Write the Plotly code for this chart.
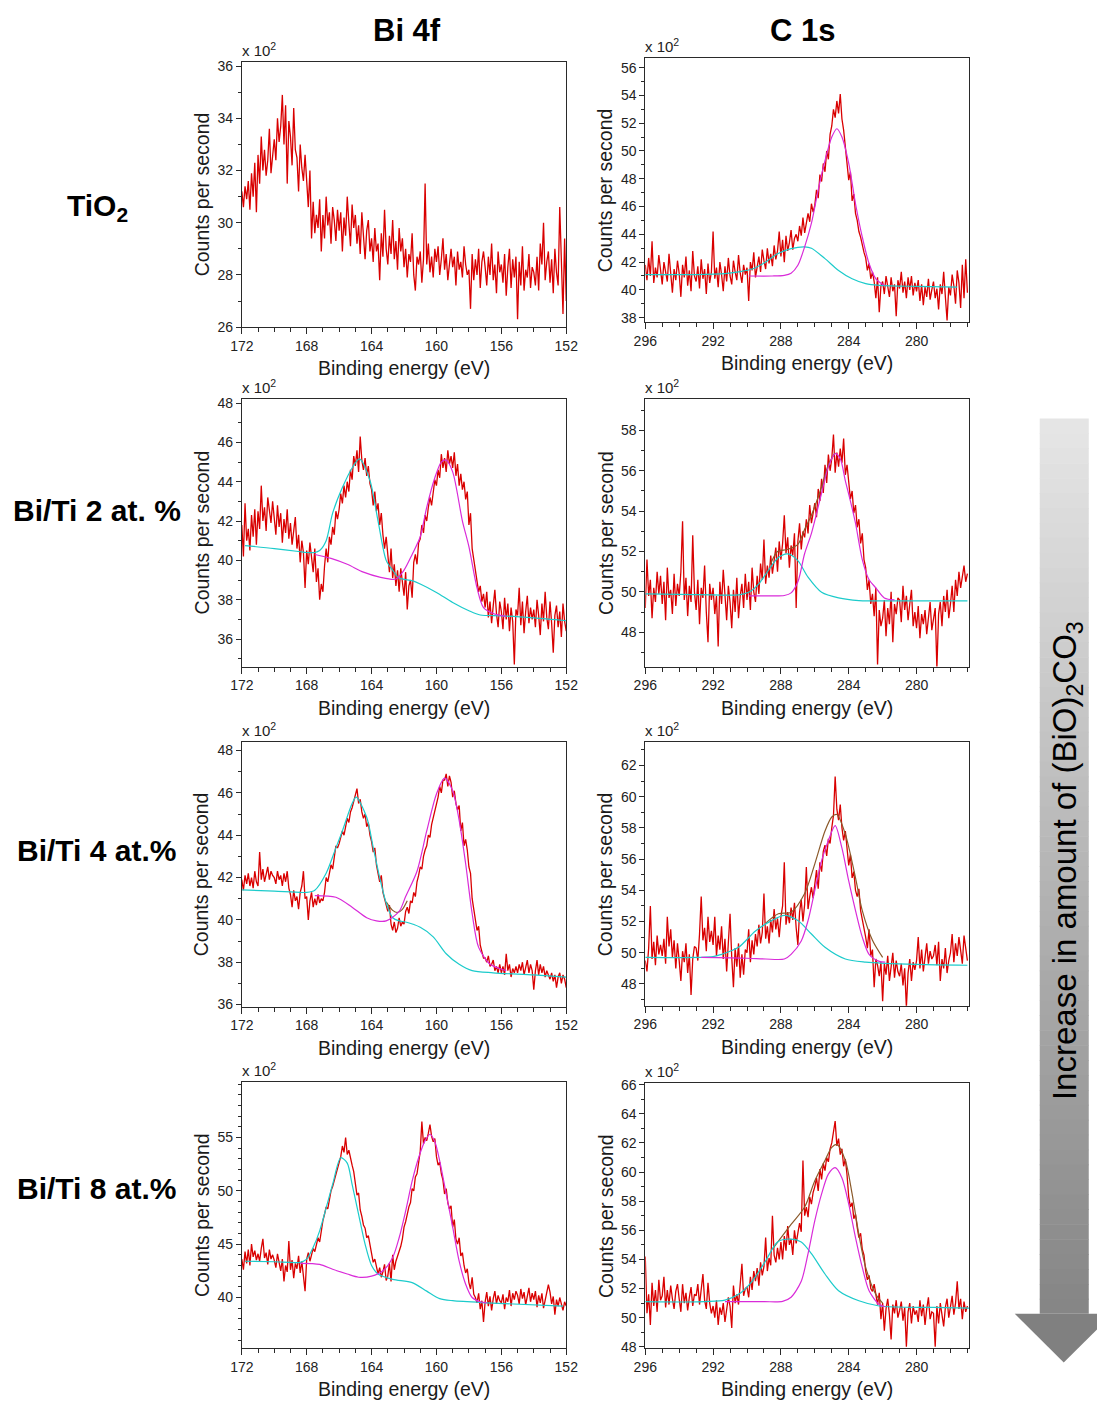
import numpy as np
import plotly.graph_objects as go

# ---------------- data (counts in units of 10^2 cps) ----------------
STEP = 0.1
BI_START = 172.0
C_START = 296.0

bi_tio2_counts = [
    31.2, 30.6, 31.4, 30.9, 31.6, 30.5, 31.9, 31.0, 32.3, 30.4,
    32.6, 31.5, 33.3, 32.0, 32.8, 31.8, 32.4, 33.6, 31.9, 32.7,
    33.2, 32.4, 34.0, 33.1, 33.7, 34.9, 33.0, 34.5, 31.5, 33.9,
    33.3, 32.2, 34.4, 32.8, 32.5, 31.2, 33.0, 32.1, 31.6, 32.6,
    31.4, 30.6, 32.0, 29.4, 30.8, 29.6, 30.3, 29.8, 30.9, 28.9,
    30.3, 29.4, 31.0, 29.9, 30.4, 29.2, 30.6, 30.1, 29.3, 30.5,
    29.7, 30.4, 28.9, 30.2, 29.5, 31.0, 30.0, 29.1, 30.7, 29.8,
    30.3, 29.2, 29.9, 28.8, 30.4, 29.5, 28.6, 29.7, 30.1, 28.9,
    29.4, 28.5, 29.8, 28.9, 29.2, 27.8, 29.6, 28.7, 30.5, 29.0,
    28.4, 29.5, 28.8, 30.1, 28.6, 29.3, 28.2, 29.8, 28.9, 29.4,
    28.3, 29.0, 27.9, 28.8, 28.5, 29.6, 28.0, 27.4, 28.7, 28.4,
    28.9, 27.7, 28.6, 31.5, 28.4, 29.2, 28.1, 28.7, 27.9, 29.0,
    28.5, 29.1, 28.0, 28.6, 29.4, 28.2, 28.8, 27.8, 28.5, 29.0,
    28.3, 28.7, 27.6, 28.9, 28.2, 28.5, 27.9, 29.1, 28.4, 28.0,
    28.2, 26.7, 28.8, 27.8, 28.6, 28.0, 29.0, 27.5, 28.5, 28.9,
    28.3, 27.6, 28.7, 28.0, 29.2, 27.8, 28.4, 27.3, 28.9, 28.1,
    28.4, 27.7, 28.8, 27.2, 28.3, 29.0, 27.5, 28.6, 27.9, 28.7,
    26.3, 28.5, 27.6, 29.1, 27.4, 28.2, 27.9, 28.8, 27.5, 28.3,
    28.1, 27.6, 28.7, 27.4, 29.2, 28.4, 30.0, 27.8, 28.5, 28.9,
    27.7, 28.6, 27.3, 29.0, 28.1, 27.6, 30.6, 28.2, 26.5, 29.4,
    27.0,
]

c_tio2_counts = [
    41.8, 40.7, 42.3, 41.0, 43.5, 40.5, 41.6, 40.9, 42.5, 41.2,
    40.4, 42.0, 41.3, 40.6, 42.6, 41.0, 39.8, 41.5, 40.7, 42.1,
    41.2, 39.5, 41.8, 40.9, 42.4, 40.3, 41.4, 39.9, 42.8, 41.0,
    40.6, 41.7, 40.1, 42.2, 40.8, 41.5, 39.7, 41.9, 40.5, 41.3,
    44.2, 40.8, 41.6, 40.2, 42.0, 41.1, 39.9, 41.7, 40.6, 42.3,
    41.0, 40.4, 42.1, 41.3, 40.7, 42.5, 41.2, 40.5, 41.8, 41.1,
    41.6, 39.2, 42.0, 41.4, 42.7, 40.9, 41.8, 42.4, 41.3, 42.9,
    42.1, 41.5, 43.0, 41.9, 42.6, 41.7, 43.2, 42.2, 42.8, 44.2,
    42.4, 43.6, 42.0, 43.9, 42.8, 43.4, 44.3, 42.9, 43.7, 44.0,
    43.5, 44.6, 43.9, 45.2, 44.1, 44.8, 45.5, 44.9, 46.2, 45.6,
    46.1, 47.2, 46.6, 48.3, 47.8, 49.1, 48.5, 50.0, 49.4, 51.2,
    51.8, 53.0, 52.4, 53.6, 52.7, 54.1, 52.3, 51.5, 50.2, 49.4,
    47.9, 48.5, 46.4, 46.9, 45.5, 45.0, 44.2, 43.8, 43.1, 42.7,
    42.3, 41.4, 41.9, 40.8, 41.3, 40.6, 39.4, 40.9, 38.4, 40.3,
    40.6, 39.7, 41.0, 40.2, 39.5, 40.9, 39.9, 40.4, 38.1, 40.7,
    40.1, 41.3, 39.8, 40.6, 39.4, 40.9, 40.0, 41.0, 39.6, 40.5,
    39.9, 40.7, 39.2, 40.4, 38.9, 40.2, 39.5, 40.8, 39.3, 40.0,
    40.6, 39.4, 40.1, 38.6, 40.4, 39.7, 41.3, 39.5, 37.8, 40.2,
    39.6, 41.1, 40.3, 39.0, 41.4, 40.5, 38.7, 41.8, 39.4, 42.2,
    39.8,
]

bi_2_counts = [
    41.8, 40.2, 42.9, 41.0, 41.6, 40.5, 42.3, 41.2, 42.6, 40.8,
    42.5, 41.6, 43.8, 42.0, 42.7, 41.5, 43.2, 42.4, 41.9, 43.0,
    42.3, 41.3, 42.8, 41.7, 42.4, 40.9, 42.1, 41.4, 42.6, 41.1,
    41.9, 40.8, 41.5, 42.2, 40.6, 41.3, 39.9, 41.0, 40.4, 38.6,
    40.5, 39.8, 40.9, 40.1, 39.4, 40.6, 38.9, 39.6, 38.0, 38.8,
    38.4, 39.7, 40.6, 39.9, 41.2, 40.8, 41.7, 41.3, 42.5, 42.1,
    42.6, 43.4, 42.9, 43.8, 43.2, 44.0, 43.5, 44.6, 44.1, 45.3,
    44.8, 45.6, 44.5, 46.3, 45.1, 44.6, 45.2, 44.3, 44.8, 43.9,
    43.6, 42.8, 43.5, 42.5, 42.9, 41.8, 42.4, 41.3, 40.6, 41.2,
    40.2, 39.4, 40.6, 39.1, 39.8, 38.7, 39.5, 38.4, 39.6, 38.9,
    38.2, 39.4, 37.5, 38.7, 39.0, 38.1, 39.9, 40.3, 39.8, 40.9,
    41.1, 41.8, 41.4, 42.3, 42.0, 42.7, 43.2, 42.8, 43.6, 44.1,
    43.8, 44.6, 44.2, 45.4, 44.7, 45.2, 44.5, 45.6, 44.9, 45.3,
    44.7, 45.5, 44.3, 44.9, 43.8, 44.4, 43.6, 44.0, 43.1, 43.5,
    41.8, 42.4, 40.6, 40.1, 39.6, 39.0, 38.4, 38.7, 37.9, 38.3,
    37.6, 38.4, 37.1, 37.9, 36.8, 37.7, 38.5, 37.3, 36.6, 37.9,
    37.4, 36.5, 38.1, 37.0, 37.8, 36.4, 37.6, 36.9, 34.7, 37.5,
    37.2, 38.6, 36.7, 37.9, 36.3, 37.4, 38.2, 36.8, 37.6, 37.0,
    37.5, 36.6, 38.0, 37.2, 36.2, 37.8, 36.9, 38.4, 37.1, 36.5,
    37.9, 36.8, 35.3, 37.2, 37.7, 36.6, 37.4, 36.1, 37.8, 36.9,
    36.4,
]

c_2_counts = [
    49.2, 51.6, 49.8, 50.6, 48.7, 50.2, 49.5, 51.0, 49.9, 50.8,
    49.4, 50.5, 48.6, 51.2, 49.7, 50.1, 48.9, 50.9, 49.3, 50.4,
    49.8, 51.0, 53.5, 49.6, 50.7, 48.8, 50.3, 49.5, 52.8, 50.0,
    49.1, 50.6, 48.4, 50.2, 49.7, 51.3, 49.0, 47.5, 50.4, 49.6,
    50.2, 48.9, 49.8, 47.3, 50.5, 49.4, 51.1, 49.9, 48.6, 50.3,
    49.5, 48.2, 50.1, 49.0, 50.7, 48.7, 49.8, 50.4, 49.2, 50.9,
    49.6, 50.5, 49.1, 51.2, 50.0, 49.5, 50.8, 49.9, 51.4, 50.6,
    52.6, 50.4, 51.3, 50.7, 51.8, 50.9, 51.5, 52.2, 51.0, 52.5,
    51.6, 52.4, 53.8, 51.9, 52.7, 51.2, 52.3, 51.8, 52.9, 49.2,
    52.5, 53.4, 52.1, 53.0, 52.7, 53.6, 52.9, 54.3, 53.4, 54.0,
    54.4, 53.7, 55.1, 54.5, 55.6, 54.9, 56.3, 55.4, 56.8, 56.0,
    56.6, 57.8, 55.9, 56.9, 56.2, 57.1, 56.4, 57.6, 55.8, 56.3,
    55.4, 54.6, 55.0, 53.9, 54.3, 53.2, 53.6, 52.4, 52.9, 51.6,
    51.2, 50.1, 50.6, 49.4, 49.9, 48.8, 50.2, 46.4, 49.1, 48.3,
    48.7, 49.6, 47.8, 49.2, 48.4, 50.0, 47.5, 49.4, 48.9, 49.7,
    49.6, 48.5, 50.3, 49.1, 49.8, 48.6, 49.4, 50.1, 48.3, 49.0,
    48.2, 49.3, 47.7, 48.9, 48.4, 49.1, 47.9, 48.7, 49.5, 48.1,
    48.6, 49.2, 46.2, 48.9, 49.5, 48.3, 49.8, 49.0, 50.1, 48.7,
    49.4, 50.3, 49.0, 50.6, 49.8, 51.0, 50.2, 50.7, 51.3, 50.5,
    50.9,
]

bi_4_counts = [
    41.9, 41.4, 42.1, 41.7, 42.2, 41.6, 42.0, 41.5, 42.3, 41.8,
    41.6, 43.2, 41.9, 42.4, 41.8, 42.2, 42.5, 41.9, 42.3, 42.1,
    42.0, 41.7, 42.3, 41.9, 42.1, 41.6, 42.2, 41.8, 42.3, 41.5,
    41.2, 40.6, 41.4, 40.9, 41.1, 40.5, 41.3, 41.6, 42.3, 41.0,
    41.1, 40.0, 40.9, 41.3, 40.6, 41.0, 40.7, 41.2, 40.8, 41.0,
    40.9, 41.3, 42.0, 41.8, 42.3, 42.6, 42.4, 43.0, 43.5, 43.4,
    43.6, 43.9, 44.2, 44.0, 44.5, 44.8, 44.6, 45.1, 45.3, 45.6,
    45.8, 46.2, 45.5, 45.7, 45.1, 44.8, 45.0, 44.4, 44.6, 44.0,
    43.7, 43.2, 43.4, 42.6, 42.2, 41.8, 42.1, 41.3, 41.0, 40.7,
    40.4, 40.7, 39.8, 39.5, 39.9, 39.4, 39.6, 40.1, 39.7, 39.9,
    39.8, 40.4, 40.6, 40.3, 40.9, 40.8, 41.3, 41.1, 41.8, 42.1,
    42.5, 42.4, 43.0, 43.3, 43.5, 44.0, 43.9, 44.5, 44.8, 45.2,
    45.5, 45.8, 46.3, 46.0, 46.6, 46.6, 46.9, 46.3, 46.8, 46.5,
    45.8, 46.1, 45.5, 45.2, 45.4, 44.2, 44.6, 43.5, 43.8, 43.3,
    42.5, 42.2, 41.0, 40.5, 40.2, 39.5, 39.7, 38.8, 38.5, 38.2,
    38.2, 38.0, 38.3, 37.8, 37.9, 38.1, 37.6, 37.8, 37.5, 37.9,
    37.5, 37.8, 37.4, 38.4, 37.6, 37.9, 37.3, 37.7, 37.5, 37.8,
    37.5, 37.9, 37.6, 38.0, 37.4, 37.8, 38.1, 37.5, 37.9, 37.6,
    36.7, 37.6, 38.1, 37.4, 37.9, 37.5, 37.8, 37.3, 37.6, 37.4,
    37.2, 37.5, 37.1, 37.4, 36.8, 37.3, 37.5, 37.0, 37.4, 37.2,
    36.8,
]

c_4_counts = [
    49.5, 48.8, 50.3, 53.0, 49.6, 50.7, 49.2, 51.1, 49.9, 50.5,
    49.8, 50.9, 49.3, 52.3, 50.4, 51.5, 49.7, 50.8, 49.0, 50.6,
    49.5, 48.2, 50.1, 49.4, 50.6, 48.7, 49.9, 47.3, 49.6, 50.4,
    50.3, 49.5, 51.2, 53.6, 50.8, 51.6, 50.1, 52.3, 50.7, 51.4,
    50.5, 52.3, 49.8, 51.1, 50.2, 51.7, 49.6, 50.9, 48.8, 50.4,
    52.5, 49.7, 47.8, 50.3, 49.1, 50.6, 48.4, 49.9, 48.6, 50.2,
    50.0, 51.5, 49.4, 50.8, 49.9, 51.2, 50.4, 51.8, 50.6, 51.3,
    53.8, 50.9, 51.7, 50.6, 52.1, 51.3, 52.8, 51.5, 52.2, 51.0,
    52.3, 53.0, 55.8, 51.8, 52.6, 51.9, 52.9, 52.1, 53.2, 51.6,
    50.5, 52.6, 53.4, 52.0, 53.1, 55.5, 52.8, 53.6, 54.2, 53.5,
    54.6, 55.3, 54.1, 55.8, 55.2, 56.5, 56.9, 56.2, 57.3, 57.0,
    58.0, 58.8, 61.3, 59.2, 58.5, 59.5, 58.0, 57.2, 57.8, 56.4,
    55.6, 56.3, 54.8, 55.2, 54.0, 53.6, 54.1, 52.7, 52.2, 51.6,
    51.0, 50.3, 51.5, 49.8, 50.2, 47.8, 49.6, 49.2, 48.5, 49.4,
    46.9, 49.3, 48.6, 49.8, 48.2, 49.1, 50.0, 48.4, 49.5, 48.8,
    48.5, 49.3, 47.9, 49.0, 46.5, 48.7, 49.6, 48.2, 49.4, 48.9,
    49.5, 51.0, 49.0, 50.2, 48.8, 49.7, 50.6, 49.3, 50.1, 49.6,
    49.8, 50.5, 49.2, 50.7, 48.2, 49.6, 49.0, 50.3, 48.7, 49.5,
    50.0, 51.2, 49.4, 50.6, 49.8, 51.0, 50.2, 49.3, 51.1, 50.4,
    49.5,
]

bi_8_counts = [
    43.6, 42.6, 44.3, 43.2, 44.5, 43.0, 45.0, 43.8, 44.4, 43.5,
    44.1, 43.4, 44.6, 45.5, 43.7, 44.2, 43.1, 44.5, 43.6, 44.0,
    43.5, 42.8, 44.1, 43.3, 42.5, 43.6, 41.5, 43.0, 42.4, 45.3,
    42.6, 43.5, 41.8, 43.2, 42.7, 43.9, 42.3, 43.4, 42.0, 40.6,
    43.6, 44.2, 43.4, 44.0, 44.6, 44.3, 44.9, 45.6, 45.2, 46.4,
    47.2, 47.8, 48.5, 48.3, 49.2, 50.0, 50.4, 51.0, 51.6, 52.1,
    52.6, 53.2, 54.2, 53.6, 55.0, 53.4, 53.8, 52.9, 52.4, 51.8,
    50.5, 49.6, 49.8, 48.2, 47.6, 46.8, 46.5, 45.6, 45.8, 44.9,
    44.0, 43.3, 43.6, 42.7, 42.2, 42.8, 41.9, 42.4, 43.1, 41.6,
    42.0, 43.2, 41.5, 44.0, 42.6, 43.4, 43.9, 44.2, 44.8, 45.5,
    46.6, 47.1, 47.9, 48.5, 48.9, 50.2, 50.0, 51.3, 51.6, 52.6,
    53.7, 56.5, 54.4, 55.0, 54.7, 55.4, 56.2, 55.1, 54.6, 54.9,
    53.2, 52.4, 52.7, 51.6, 51.0, 49.7, 50.2, 48.9, 48.3, 48.6,
    46.6, 47.3, 45.5, 45.0, 45.6, 43.9, 44.2, 43.0, 42.3, 42.7,
    41.4, 40.8, 41.9, 40.3, 40.0, 39.5, 40.4, 38.9, 39.7, 37.7,
    39.6, 40.5, 39.2, 40.1, 38.8, 39.9, 40.6, 39.4, 40.2, 39.7,
    39.5, 40.3, 38.9, 40.0, 39.6, 40.7, 39.2, 40.4, 39.8, 40.6,
    40.2, 39.4, 40.8, 39.9, 40.5, 39.3, 40.1, 40.9, 39.6, 40.4,
    39.8, 40.6, 39.1, 40.2, 39.5, 40.4, 39.0, 39.7, 40.3, 41.2,
    40.5, 39.4, 40.1, 38.4, 39.8, 39.2, 40.0, 39.5, 38.8, 39.6,
    39.2,
]

c_8_counts = [
    54.2, 50.3, 51.6, 49.5, 52.4, 50.8, 51.9, 50.4, 52.6, 51.2,
    51.5, 52.8, 50.7, 51.9, 50.9, 52.2, 51.3, 50.6, 51.8, 52.3,
    51.3, 50.4, 52.3, 51.0, 51.7, 50.5, 51.4, 52.1, 50.8, 51.6,
    51.5, 52.3, 50.9, 51.8, 53.0, 51.2, 50.6, 52.4, 51.0, 50.3,
    50.8, 50.0, 51.2, 49.5, 50.7, 50.2, 51.0, 49.7, 50.6, 51.4,
    50.8, 49.3, 52.2, 51.0, 51.6, 50.9, 52.3, 53.7, 51.5, 52.0,
    52.1, 51.4, 52.8, 51.9, 53.2, 52.5, 53.4, 52.2, 53.8, 52.9,
    53.5, 55.5, 53.2, 54.1, 53.6, 57.0, 54.3, 53.8, 54.8, 54.0,
    55.2, 54.0, 55.6, 54.6, 56.3, 55.0, 55.4, 54.3, 56.0, 55.1,
    55.8, 56.5, 55.9, 60.8, 57.0, 57.6, 56.9, 58.3, 57.8, 58.6,
    59.0, 59.6, 58.7, 60.2, 59.5, 60.6, 60.1, 61.0, 60.7, 61.6,
    62.0, 62.7, 63.5, 61.8, 62.3, 61.2, 61.6, 60.4, 60.9, 59.8,
    58.3, 57.6, 57.9, 56.8, 57.1, 56.2, 55.5, 55.8, 54.7, 54.3,
    53.2, 52.6, 52.9, 52.0, 51.8, 52.3, 51.4, 50.9, 51.7, 49.9,
    51.0, 49.1, 50.6, 51.3, 50.2, 48.5, 50.9, 50.3, 51.2, 50.0,
    50.5, 51.1, 49.8, 50.7, 48.0, 50.4, 51.0, 49.6, 50.8, 50.2,
    50.5, 49.7, 51.2, 50.1, 50.9, 49.5, 50.6, 51.4, 49.9, 50.4,
    50.3, 48.0, 50.8, 49.6, 51.0, 50.2, 49.4, 50.7, 51.3, 50.0,
    50.8, 51.5, 50.2, 51.0, 52.5, 50.6, 51.3, 49.9, 51.1, 50.4,
    50.8,
]

# ---- fitted components (binding energy, counts x10^2) ----
c_tio2_cyan_be = [296, 293, 291.3, 290.5, 289.7, 288.9, 288.2, 287.4, 286.6, 286.2, 285.4, 284.6, 283.8, 283, 282.2, 280, 277.6]
c_tio2_cyan = [41.1, 41.1, 41.17, 41.3, 41.5, 42.0, 42.6, 42.97, 43.1, 43.0, 42.25, 41.4, 40.8, 40.45, 40.33, 40.25, 40.2]
c_tio2_mag_be = [289.9, 288.5, 287.8, 287.4, 287.0, 286.6, 286.2, 285.8, 285.4, 285.0, 284.7, 284.4, 284.0, 283.6, 283.2, 282.8, 282.4, 281.9]
c_tio2_mag = [41.0, 41.0, 41.05, 41.2, 41.77, 43.1, 44.8, 47.2, 49.3, 51.0, 51.6, 51.0, 49.1, 46.2, 43.8, 41.9, 40.8, 40.33]

bi_2_cyan_be = [171.8, 170, 168.5, 168, 167.5, 167.2, 166.8, 166.4, 165.8, 165.2, 164.75, 164.1, 163.6, 163.1, 162.7, 162.3, 161.5, 161.0, 160.0, 159.0, 158.0, 157.3, 156, 154, 152]
bi_2_cyan = [40.75, 40.6, 40.45, 40.4, 40.4, 40.5, 41.0, 42.4, 43.7, 44.7, 45.16, 44.06, 42.0, 40.0, 39.5, 39.1, 38.97, 38.8, 38.37, 37.86, 37.44, 37.22, 37.18, 37.07, 36.93]
bi_2_mag_be = [167.5, 166.5, 165.5, 164.5, 163.5, 162.5, 162.0, 161.5, 161.0, 160.6, 160.1, 159.7, 159.4, 159.0, 158.4, 158.0, 157.5, 157.1, 156.5, 155.7]
bi_2_mag = [40.3, 40.1, 39.8, 39.4, 39.15, 39.05, 39.5, 40.3, 41.2, 42.7, 44.2, 45.0, 45.1, 44.5, 42.0, 40.7, 38.6, 37.6, 37.3, 37.15]

c_2_cyan_be = [296, 292, 290.5, 289.9, 289.3, 288.75, 288.15, 287.6, 287.0, 286.4, 285.6, 284.6, 283.4, 281, 277]
c_2_cyan = [49.9, 49.85, 49.85, 49.98, 50.4, 51.06, 51.7, 51.88, 51.55, 50.73, 49.98, 49.7, 49.57, 49.55, 49.55]
c_2_mag_be = [289.9, 288.5, 287.8, 287.4, 287.0, 286.6, 286.2, 285.6, 285.2, 284.8, 284.5, 284.2, 283.9, 283.6, 283.2, 282.8, 282.4, 281.9, 281.3]
c_2_mag = [49.8, 49.8, 49.82, 49.95, 50.5, 51.9, 52.9, 54.9, 56.2, 56.85, 56.6, 55.5, 54.5, 53.4, 51.6, 50.6, 50.2, 49.7, 49.6]
c_2_env_be = [288.6, 288.2, 287.6, 287.0, 286.6, 286.2, 285.6, 285.2, 284.8]
c_2_env = [51.4, 52.0, 52.1, 52.35, 53.1, 53.8, 55.2, 56.3, 56.9]

bi_4_cyan_be = [172, 170, 168, 167.5, 166.8, 166.2, 165.8, 165.2, 164.95, 164.3, 163.9, 163.5, 163.1, 162.7, 162.3, 161.9, 161.0, 160.2, 159.4, 158.6, 157.8, 156.5, 154, 152]
bi_4_cyan = [41.42, 41.36, 41.3, 41.4, 42.2, 43.4, 44.2, 45.5, 45.8, 44.85, 43.43, 42.0, 40.8, 40.1, 39.95, 39.9, 39.65, 39.2, 38.4, 37.9, 37.6, 37.5, 37.4, 37.3]
bi_4_mag_be = [167.5, 166.2, 165.2, 164.3, 163.7, 163.1, 162.3, 161.9, 161.2, 160.6, 160.0, 159.5, 159.0, 158.6, 158.2, 157.8, 157.4, 156.7, 156.1, 155.7]
bi_4_mag = [41.15, 41.07, 40.6, 40.1, 39.95, 39.95, 40.4, 41.1, 42.3, 44.2, 45.95, 46.7, 46.1, 44.7, 42.65, 40.3, 38.7, 37.9, 37.7, 37.6]
bi_4_env_be = [163.1, 162.7, 162.4, 162.1, 161.8]
bi_4_env = [40.85, 40.45, 40.35, 40.5, 40.9]

c_4_cyan_be = [296, 292, 291.5, 290.5, 289.5, 288.55, 287.8, 287.0, 286.2, 285.4, 284.2, 283.0, 280, 277]
c_4_cyan = [49.71, 49.75, 49.9, 50.35, 51.4, 52.06, 52.4, 52.06, 51.2, 50.35, 49.6, 49.4, 49.25, 49.2]
c_4_mag_be = [292.7, 290, 288.9, 287.8, 287.4, 286.8, 286.4, 286.0, 285.6, 285.2, 284.8, 284.4, 284.0, 283.6, 283.2, 282.8, 282.2, 281.85]
c_4_mag = [49.7, 49.65, 49.6, 49.6, 49.9, 50.76, 52.06, 54.0, 55.9, 57.2, 58.15, 56.7, 54.6, 52.7, 51.0, 49.9, 49.45, 49.4]
c_4_env_be = [288.9, 288.15, 287.4, 286.6, 286.0, 285.4, 285.0, 284.7, 284.2, 283.6, 283.2, 282.6, 282.0]
c_4_env = [51.9, 52.5, 52.6, 53.8, 55.7, 57.8, 58.7, 58.86, 57.6, 54.8, 52.7, 50.8, 49.7]

bi_8_cyan_be = [171.8, 170, 168.4, 168.0, 167.6, 167.2, 166.8, 166.4, 165.9, 165.5, 165.2, 164.8, 164.4, 164.0, 163.6, 162.7, 161.5, 160.6, 159.8, 159.0, 156.9, 152.2]
bi_8_cyan = [43.4, 43.35, 43.3, 43.6, 44.7, 46.25, 48.4, 50.6, 53.1, 52.6, 50.6, 47.8, 45.0, 43.0, 42.2, 41.7, 41.4, 40.6, 39.9, 39.7, 39.5, 39.2]
bi_8_mag_be = [168.4, 167.2, 166.4, 165.5, 164.8, 164.0, 163.3, 162.7, 162.3, 161.9, 161.5, 161.1, 160.7, 160.4, 160.1, 159.8, 159.4, 159.0, 158.6, 158.2, 157.8, 157.3, 156.9]
bi_8_mag = [43.2, 43.1, 42.65, 42.2, 41.9, 42.0, 42.5, 43.75, 45.6, 48.1, 50.9, 53.1, 54.7, 55.3, 54.6, 52.8, 49.7, 46.6, 43.4, 41.25, 40.0, 39.6, 39.5]

c_8_cyan_be = [296, 291.3, 290.5, 289.7, 288.9, 288.2, 287.4, 286.8, 286.2, 285.4, 284.6, 283.4, 282.2, 279, 276.9]
c_8_cyan = [51.1, 51.2, 51.6, 52.5, 53.9, 55.2, 55.4, 55.2, 54.4, 53.0, 51.85, 51.16, 50.8, 50.7, 50.65]
c_8_mag_be = [291.3, 289, 287.9, 287.4, 286.8, 286.4, 286.0, 285.6, 285.2, 284.8, 284.4, 284.0, 283.6, 283.2, 282.8, 282.2, 281.85]
c_8_mag = [51.1, 51.1, 51.12, 51.4, 52.5, 54.4, 56.66, 58.5, 59.86, 60.3, 59.6, 57.8, 55.5, 53.45, 51.85, 50.9, 50.75]
c_8_env_be = [288.5, 287.4, 286.6, 286.0, 285.4, 285.0, 284.7, 284.2, 283.8, 283.4, 283.0, 282.4, 282.0]
c_8_env = [54.7, 56.4, 57.6, 59.4, 60.8, 61.7, 61.9, 60.8, 58.5, 55.7, 53.45, 51.6, 51.0]

bi_xticks = [172, 168, 164, 160, 156, 152]
c_xticks = [296, 292, 288, 284, 280]

row_labels = ["TiO<sub>2</sub>", "Bi/Ti 2 at. %", "Bi/Ti 4 at.%", "Bi/Ti 8 at.%"]
col_titles = ["Bi 4f", "C 1s"]
arrow_text = "Increase in amount of (BiO)<sub>2</sub>CO<sub>3</sub>"

# ---------------- styling / layout ----------------
W, H = 1112, 1410
# observed page-to-photo mapping (scale + offset), used to place items
SX, BX = 0.978, 11.0
SY, BY = 0.989, 6.7
FONT = "Liberation Sans, Arial, sans-serif"
RED = "#d90000"
CYAN = "#1ccbcb"
MAG = "#d92bd9"
ENV = "#8b5a2b"


def fxp(x):
    return (x - BX) / SX


def fyp(y):
    return (y - BY) / SY


def px(x):
    return min(fxp(x), W) / W


def py(y):
    return 1 - min(fyp(y), H) / H


panels = [
    dict(counts=bi_tio2_counts, start=BI_START, xr=[172, 152], yr=[26, 36.16],
         yt=[26, 28, 30, 32, 34, 36], xt=bi_xticks, box=(240.7, 565, 61.7, 326.7), fits=[]),
    dict(counts=c_tio2_counts, start=C_START, xr=[296, 276.9], yr=[37.68, 56.69],
         yt=[38, 40, 42, 44, 46, 48, 50, 52, 54, 56], xt=c_xticks, box=(644, 967.7, 57.7, 321.7),
         fits=[(c_tio2_cyan_be, c_tio2_cyan, CYAN), (c_tio2_mag_be, c_tio2_mag, MAG)]),
    dict(counts=bi_2_counts, start=BI_START, xr=[172, 152], yr=[34.6, 48.22],
         yt=[36, 38, 40, 42, 44, 46, 48], xt=bi_xticks, box=(240.7, 565, 398.3, 666),
         fits=[(bi_2_cyan_be, bi_2_cyan, CYAN), (bi_2_mag_be, bi_2_mag, MAG)]),
    dict(counts=c_2_counts, start=C_START, xr=[296, 276.9], yr=[46.3, 59.57],
         yt=[48, 50, 52, 54, 56, 58], xt=c_xticks, box=(644, 967.7, 398.3, 666),
         fits=[(c_2_env_be, c_2_env, ENV), (c_2_cyan_be, c_2_cyan, CYAN), (c_2_mag_be, c_2_mag, MAG)]),
    dict(counts=bi_4_counts, start=BI_START, xr=[172, 152], yr=[35.9, 48.39],
         yt=[36, 38, 40, 42, 44, 46, 48], xt=bi_xticks, box=(240.7, 565, 741.7, 1006),
         fits=[(bi_4_env_be, bi_4_env, ENV), (bi_4_cyan_be, bi_4_cyan, CYAN), (bi_4_mag_be, bi_4_mag, MAG)]),
    dict(counts=c_4_counts, start=C_START, xr=[296, 276.9], yr=[46.61, 63.49],
         yt=[48, 50, 52, 54, 56, 58, 60, 62], xt=c_xticks, box=(644, 967.7, 741.7, 1005),
         fits=[(c_4_env_be, c_4_env, ENV), (c_4_cyan_be, c_4_cyan, CYAN), (c_4_mag_be, c_4_mag, MAG)]),
    dict(counts=bi_8_counts, start=BI_START, xr=[172, 152], yr=[35.26, 60.16],
         yt=[40, 45, 50, 55], xt=bi_xticks, box=(240.7, 565, 1081.7, 1347.3),
         fits=[(bi_8_cyan_be, bi_8_cyan, CYAN), (bi_8_mag_be, bi_8_mag, MAG)]),
    dict(counts=c_8_counts, start=C_START, xr=[296, 276.9], yr=[47.91, 66.09],
         yt=[48, 50, 52, 54, 56, 58, 60, 62, 64, 66], xt=c_xticks, box=(644, 967.7, 1082.7, 1347.3),
         fits=[(c_8_env_be, c_8_env, ENV), (c_8_cyan_be, c_8_cyan, CYAN), (c_8_mag_be, c_8_mag, MAG)]),
]

fig = go.Figure()
layout = dict(width=W, height=H, margin=dict(l=0, r=0, t=0, b=0), autosize=False,
              paper_bgcolor="white", plot_bgcolor="white", showlegend=False,
              font=dict(family=FONT, color="#1a1a1a"))
annotations = []
shapes = []

AXC = "#2a2a2a"
for i, p in enumerate(panels):
    sfx = "" if i == 0 else str(i + 1)
    xa, ya = "x" + sfx, "y" + sfx
    x0, x1, y0, y1 = p["box"]
    be = np.round(p["start"] - STEP * np.arange(len(p["counts"])), 2)
    fig.add_trace(go.Scatter(x=be, y=p["counts"], mode="lines", xaxis=xa, yaxis=ya,
                             line=dict(color=RED, width=1.3), hoverinfo="skip"))
    for fx, fy, col in p["fits"]:
        fig.add_trace(go.Scatter(x=fx, y=fy, mode="lines", xaxis=xa, yaxis=ya,
                                 line=dict(color=col, width=1.2, shape="spline", smoothing=0.8),
                                 hoverinfo="skip"))
    lo_x, hi_x = min(p["xr"]), max(p["xr"])
    lo_y, hi_y = p["yr"]
    common = dict(showline=True, linecolor=AXC, linewidth=1, mirror=True, showgrid=False,
                  zeroline=False, ticks="outside", tickcolor=AXC, tickwidth=1,
                  tickfont=dict(family=FONT, size=14, color="#222"))
    layout["xaxis" + sfx] = dict(domain=[px(x0), px(x1)], range=p["xr"], anchor=ya,
                                 tickmode="array", tickvals=p["xt"], ticklen=6,
                                 minor=dict(tickmode="array", ticklen=4, tickcolor=AXC, ticks="outside",
                                            tickvals=list(range(int(np.ceil(lo_x)), int(np.floor(hi_x)) + 1))),
                                 **common)
    layout["yaxis" + sfx] = dict(domain=[py(y1), py(y0)], range=p["yr"], anchor=xa,
                                 tickmode="array", tickvals=p["yt"], ticklen=5,
                                 minor=dict(tickmode="array", ticklen=3, tickcolor=AXC, ticks="outside",
                                            tickvals=list(range(int(np.ceil(lo_y)), int(np.floor(hi_y)) + 1))),
                                 **common)
    annotations.append(dict(x=px(x0 - 2), y=py(y0 - 1), xref="paper", yref="paper", xanchor="left",
                            yanchor="bottom", text="x 10<sup>2</sup>", showarrow=False,
                            font=dict(family=FONT, size=15, color="#222")))
    annotations.append(dict(x=px((x0 + x1) / 2), y=py(y1 + 41), xref="paper", yref="paper",
                            xanchor="center", yanchor="middle", text="Binding energy (eV)",
                            showarrow=False, font=dict(family=FONT, size=19.5, color="#1a1a1a")))
    annotations.append(dict(x=px(x0 - 40), y=py((y0 + y1) / 2), xref="paper", yref="paper",
                            xanchor="center", yanchor="middle", text="Counts per second", textangle=-90,
                            showarrow=False, font=dict(family=FONT, size=19.5, color="#1a1a1a")))

for lab, yc in zip(row_labels, [207, 510, 850, 1188]):
    annotations.append(dict(x=px(96), y=py(yc), xref="paper", yref="paper", xanchor="center",
                            yanchor="middle", text="<b>" + lab + "</b>", showarrow=False,
                            font=dict(family=FONT, size=30, color="black")))
for t, xc in zip(col_titles, [406, 801]):
    annotations.append(dict(x=px(xc), y=py(30), xref="paper", yref="paper", xanchor="center",
                            yanchor="middle", text="<b>" + t + "</b>", showarrow=False,
                            font=dict(family=FONT, size=31, color="black")))

# gradient arrow (decoration)
bx0, bx1, by0, by1 = 1038.3, 1087.3, 418, 1313
N = 60
for k in range(N):
    t0 = by0 + (by1 - by0) * k / N
    t1 = by0 + (by1 - by0) * (k + 1) / N + 0.6
    g = int(round(230 - (230 - 133) * (k + 0.5) / N))
    shapes.append(dict(type="rect", xref="paper", yref="paper", x0=px(bx0), x1=px(bx1),
                       y0=py(min(t1, by1)), y1=py(t0), fillcolor=f"rgb({g},{g},{g})",
                       line=dict(width=0), layer="below"))
# arrow head, clipped at the figure's right edge
hl, hr, ht, hy0, hy1 = fxp(1013.3), fxp(1111.3), fxp(1062.3), fyp(1313), fyp(1361.7)
xcut = min(hr, W)
ycut = hy0 + (hr - xcut) / (hr - ht) * (hy1 - hy0)
head = [(hl, hy0), (xcut, hy0), (xcut, ycut), (ht, hy1)]
path = "M " + " L ".join(f"{x / W},{1 - y / H}" for x, y in head) + " Z"
shapes.append(dict(type="path", xref="paper", yref="paper", path=path,
                   fillcolor="#808080", line=dict(width=0), layer="below"))
annotations.append(dict(x=px(1065), y=py(860), xref="paper", yref="paper", xanchor="center",
                        yanchor="middle", text=arrow_text, textangle=-90, showarrow=False,
                        font=dict(family=FONT, size=33, color="black")))

layout["annotations"] = annotations
layout["shapes"] = shapes
fig.update_layout(**layout)
fig.write_html("out.html")
